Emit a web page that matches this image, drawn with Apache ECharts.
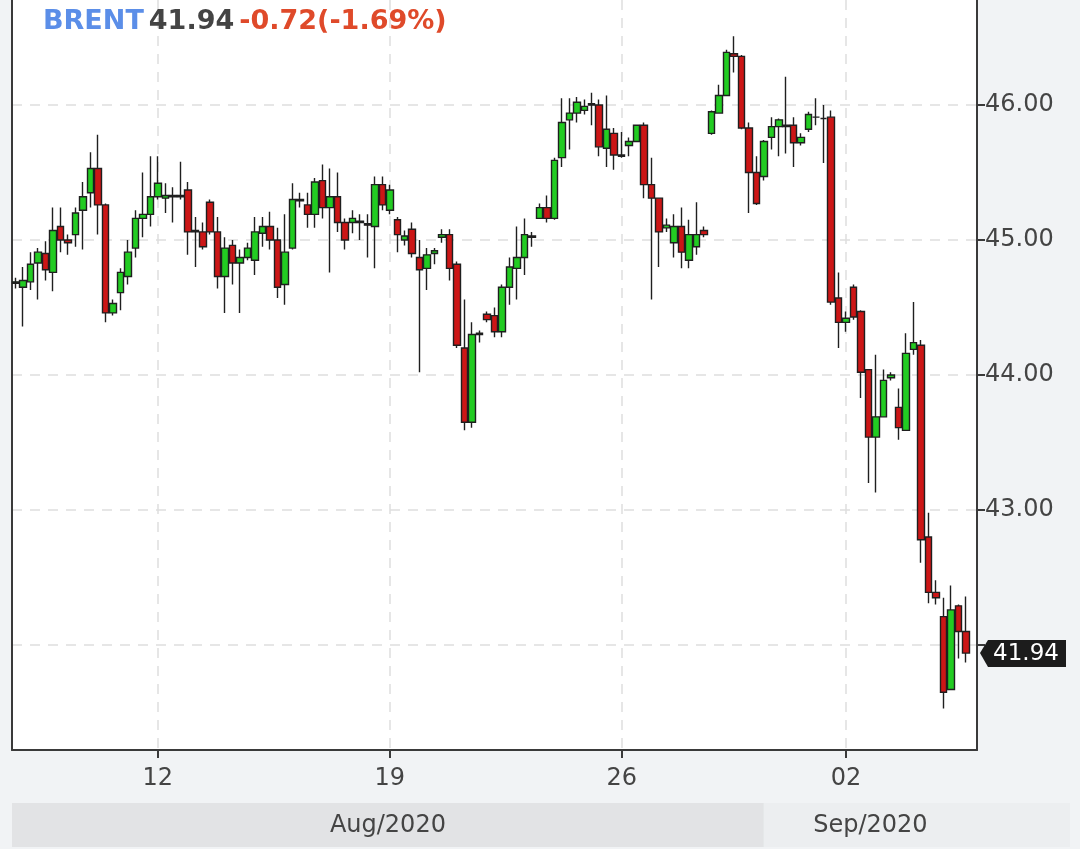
<!DOCTYPE html>
<html>
<head>
<meta charset="utf-8">
<script src="https://cdn.jsdelivr.net/npm/echarts@6/dist/echarts.min.js"></script>
<style>
html,body{margin:0;padding:0;background:#f1f3f5;}
#chart{width:1080px;height:849px;}
</style>
</head>
<body>
<div id="chart"></div>
<script>
// ---- data ----
const instrument = 'BRENT';
const lastPrice = 41.94;
const change = -0.72;
const changePct = -1.69;

// trading days and number of 4h bars shown for each
const days = [['08/07',6],['08/10',6],['08/11',7],['08/12',6],['08/13',6],['08/14',6],['08/17',6],['08/18',7],
  ['08/19',6],['08/20',6],['08/21',6],['08/24',6],['08/25',7],['08/26',6],['08/27',6],['08/28',6],['08/31',6],
  ['09/01',6],['09/02',6],['09/03',6],['09/04',6]];
const tickDays = ['08/12','08/19','08/26','09/02'];
const tickLabels = ['12','19','26','02'];
const yTicks = [42, 43, 44, 45, 46];
const yLabels = [43, 44, 45, 46]; // 42.00 sits under the last-price tag
const monthLabels = ['Aug/2020','Sep/2020'];

const opens = [44.68,44.65,44.69,44.83,44.90,44.76,45.10,45.00,45.04,45.22,45.35,45.53,45.26,44.46,44.61,44.73,44.94,45.16,45.19,45.32,
  45.31,45.33,45.32,45.37,45.06,45.06,45.28,45.06,44.73,44.96,44.83,44.87,44.85,45.05,45.10,45.00,44.67,44.94,45.30,45.26,
  45.19,45.44,45.24,45.32,45.13,45.13,45.14,45.12,45.10,45.41,45.22,45.15,45.00,45.08,44.87,44.79,44.90,45.02,45.04,44.82,
  44.20,43.65,44.31,44.45,44.44,44.32,44.65,44.79,44.87,45.03,45.16,45.24,45.16,45.61,45.89,45.94,45.96,46.00,46.00,45.68,
  45.79,45.63,45.70,45.73,45.85,45.41,45.31,45.09,44.98,45.10,44.85,44.95,45.07,45.79,45.94,46.07,46.38,46.36,45.83,45.50,
  45.47,45.76,45.84,45.85,45.85,45.72,45.82,45.91,45.90,45.91,44.57,44.39,44.65,44.47,44.04,43.54,43.69,43.98,43.76,43.59,
  44.19,44.22,42.80,42.39,42.21,41.67,42.29,42.10];
const closes = [44.69,44.70,44.82,44.91,44.78,45.07,45.00,44.98,45.20,45.32,45.53,45.26,44.46,44.53,44.76,44.91,45.16,45.19,45.32,45.42,
  45.33,45.32,45.33,45.06,45.07,44.95,45.06,44.73,44.94,44.83,44.87,44.94,45.06,45.10,45.00,44.65,44.91,45.30,45.29,45.19,
  45.43,45.24,45.32,45.13,45.00,45.16,45.13,45.11,45.41,45.26,45.37,45.04,45.03,44.90,44.78,44.89,44.92,45.04,44.79,44.22,
  43.65,44.30,44.30,44.41,44.32,44.65,44.80,44.87,45.04,45.02,45.24,45.16,45.59,45.87,45.94,46.02,45.99,46.01,45.69,45.82,
  45.63,45.62,45.73,45.85,45.41,45.31,45.06,45.11,45.10,44.91,45.04,45.04,45.04,45.95,46.07,46.39,46.36,45.83,45.50,45.27,
  45.73,45.84,45.89,45.84,45.72,45.76,45.93,45.91,45.90,44.54,44.39,44.42,44.43,44.02,43.54,43.69,43.96,44.00,43.61,44.16,
  44.24,42.78,42.39,42.35,41.65,42.26,42.10,41.94];
const lows = [44.64,44.36,44.63,44.56,44.70,44.62,44.91,44.89,44.95,44.93,45.24,45.04,44.39,44.44,44.48,44.67,44.87,45.02,45.10,45.30,
  45.20,45.13,45.30,44.89,44.80,44.93,45.04,44.64,44.46,44.67,44.46,44.85,44.74,44.95,44.93,44.57,44.52,44.93,45.24,45.09,
  45.09,45.16,44.76,45.06,44.93,45.05,45.00,44.87,44.79,45.22,45.19,44.91,44.96,44.87,44.02,44.63,44.82,44.98,44.70,44.20,
  43.59,43.61,44.24,44.39,44.28,44.28,44.52,44.56,44.74,44.95,45.16,45.13,45.15,45.54,45.67,45.87,45.93,45.85,45.62,45.54,
  45.52,45.61,45.62,45.73,45.31,44.56,44.80,45.06,44.87,44.79,44.79,44.89,45.02,45.78,45.94,46.07,46.24,45.82,45.20,45.26,
  45.44,45.67,45.62,45.64,45.54,45.70,45.80,45.85,45.57,44.52,44.20,44.32,44.41,43.83,43.20,43.13,43.69,43.96,43.52,43.59,
  44.15,42.61,42.31,42.30,41.53,41.67,41.90,41.87];
const highs = [44.72,44.80,44.91,44.94,44.99,45.24,45.24,45.04,45.24,45.43,45.65,45.78,45.27,44.56,44.79,45.00,45.22,45.50,45.62,45.62,
  45.42,45.39,45.58,45.43,45.17,45.13,45.30,45.17,45.02,45.00,44.93,44.98,45.17,45.17,45.21,45.09,45.19,45.42,45.35,45.35,
  45.46,45.56,45.53,45.50,45.16,45.22,45.19,45.19,45.47,45.47,45.41,45.17,45.07,45.13,45.00,44.94,44.94,45.08,45.08,44.84,
  44.56,44.39,44.33,44.47,44.50,44.67,44.87,45.10,45.16,45.06,45.27,45.33,45.61,46.05,46.05,46.06,46.04,46.09,46.04,46.07,
  45.83,45.80,45.76,45.85,45.87,45.61,45.31,45.16,45.19,45.24,45.15,45.28,45.10,45.96,46.15,46.41,46.51,46.37,45.87,45.62,
  45.74,45.91,45.90,46.21,45.91,45.79,45.95,46.05,46.00,45.96,44.76,44.47,44.67,44.48,44.04,44.15,44.04,44.02,43.90,44.31,
  44.54,44.26,42.98,42.48,42.35,42.44,42.30,42.36];

// ---- build ----
const categories = [];
days.forEach(([d, n]) => { for (let k = 0; k < n; k++) categories.push(d + ' #' + (k + 1)); });
const tickIndex = tickDays.map(d => categories.indexOf(d + ' #1'));
const candles = categories.map((c, i) => i < opens.length ? [opens[i], closes[i], lows[i], highs[i]] : '-');

const FONT = 'DejaVu Sans';
const GRID_L = 12, GRID_R = 103, GRID_T = 0, GRID_B = 99;
const showTick = (i) => tickIndex.indexOf(i) >= 0;
const dash = { color: '#dedede', width: 1.5, type: [10, 8] };

const chart = echarts.init(document.getElementById('chart'));
chart.setOption({
  animation: false,
  backgroundColor: '#f1f3f5',
  title: {
    left: 38, top: 3,
    text: '{a|' + instrument + '} {b|' + lastPrice.toFixed(2) + '} {c|' + change.toFixed(2) + '(' + changePct.toFixed(2) + '%)}',
    textStyle: {
      rich: {
        a: { color: '#5b8ee8', fontSize: 27, fontWeight: 'bold', fontFamily: FONT },
        b: { color: '#444444', fontSize: 27, fontWeight: 'bold', fontFamily: FONT },
        c: { color: '#df4a2a', fontSize: 27, fontWeight: 'bold', fontFamily: FONT }
      }
    }
  },
  grid: { left: GRID_L, right: GRID_R, top: GRID_T, bottom: GRID_B, show: true, backgroundColor: '#ffffff', borderWidth: 0 },
  xAxis: {
    type: 'category', data: categories, boundaryGap: true,
    axisLine: { lineStyle: { color: '#3a3a3a', width: 2 } },
    axisTick: { show: true, alignWithLabel: true, interval: (i) => showTick(i), length: 8, lineStyle: { color: '#3a3a3a', width: 2 } },
    axisLabel: { interval: (i) => showTick(i), formatter: (v, i) => tickLabels[tickIndex.indexOf(i)],
      color: '#444444', fontSize: 24, fontFamily: FONT, margin: 17 },
    splitLine: { show: true, alignWithLabel: true, interval: (i) => showTick(i), lineStyle: dash }
  },
  yAxis: [{
    type: 'value', position: 'right', min: 41.2222, max: 46.7778, scale: true,
    axisLine: { show: true, lineStyle: { color: '#3a3a3a', width: 2 } },
    axisTick: { show: true, length: 8, customValues: yTicks, lineStyle: { color: '#3a3a3a', width: 2 } },
    axisLabel: { customValues: yLabels, formatter: (v) => Number(v).toFixed(2), color: '#444444', fontSize: 24, fontFamily: FONT, margin: 8 },
    splitLine: { show: true, lineStyle: dash }
  }, {
    type: 'value', position: 'left', min: 41.2222, max: 46.7778, scale: true,
    axisLine: { show: true, lineStyle: { color: '#3a3a3a', width: 2 } },
    axisTick: { show: false }, axisLabel: { show: false }, splitLine: { show: false }
  }],
  series: [{
    type: 'candlestick', data: candles, barWidth: 7,
    itemStyle: { color: '#22cc22', color0: '#cc1616', borderColor: '#1f1f1f', borderColor0: '#1f1f1f', borderColorDoji: '#1f1f1f', borderWidth: 1.4 }
  }]
});

// overlays positioned through the chart's own scales
const py = chart.convertToPixel({ yAxisIndex: 0 }, lastPrice);
const plotRight = 1080 - GRID_R;
const sepX = chart.convertToPixel({ xAxisIndex: 0 }, categories[100]);
const bandTop = 803, bandH = 44;
chart.setOption({
  graphic: [
    { type: 'rect', z: 50, shape: { x: GRID_L, y: bandTop, width: sepX - GRID_L, height: bandH }, style: { fill: '#e2e3e5' } },
    { type: 'rect', z: 50, shape: { x: sepX, y: bandTop, width: 1070 - sepX, height: bandH }, style: { fill: '#eceef0' } },
    { type: 'text', z: 51, x: (GRID_L + sepX) / 2, y: bandTop + bandH / 2 + 1,
      style: { text: monthLabels[0], fill: '#444444', font: '24px "DejaVu Sans"', align: 'center', verticalAlign: 'middle' } },
    { type: 'text', z: 51, x: (sepX + plotRight) / 2, y: bandTop + bandH / 2 + 1,
      style: { text: monthLabels[1], fill: '#444444', font: '24px "DejaVu Sans"', align: 'center', verticalAlign: 'middle' } },
    { type: 'polygon', z: 100, shape: { points: [[plotRight + 3, py], [plotRight + 11, py - 13], [1066, py - 13], [1066, py + 14], [plotRight + 11, py + 14]] },
      style: { fill: '#1c1c1c' } },
    { type: 'text', z: 101, x: 1026, y: py + 1,
      style: { text: lastPrice.toFixed(2), fill: '#ffffff', font: '23px "DejaVu Sans"', align: 'center', verticalAlign: 'middle' } }
  ]
});
</script>
</body>
</html>
